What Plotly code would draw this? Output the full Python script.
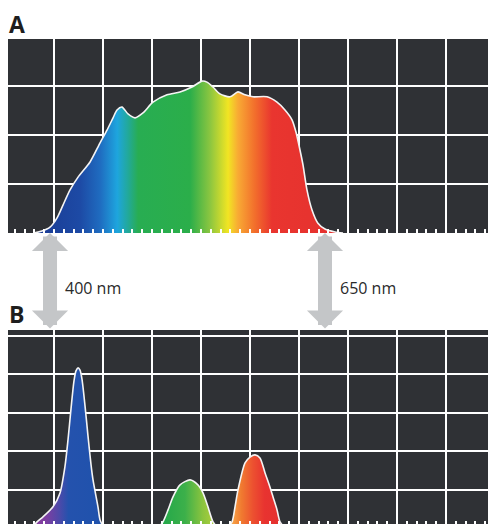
import plotly.graph_objects as go

# ---------------- data ----------------
# Panel A: broad (white-light) spectrum, wavelength in nm, relative intensity
a_wavelength = [385.5, 392.7, 400.0, 406.4, 411.8, 418.2, 425.5, 436.4, 445.5, 451.8,
                457.3, 460.9, 465.5, 470.9, 477.3, 484.5, 493.6, 506.4, 518.2, 529.1,
                538.2, 542.7, 548.2, 554.5, 563.6, 570.9, 577.3, 584.5, 597.3, 606.4,
                613.6, 620.0, 623.6, 627.3, 630.0, 633.6, 638.2, 643.6, 650.0, 659.1,
                666.4]
a_intensity = [0.00, 0.04, 0.12, 0.31, 0.57, 0.88, 1.14, 1.45, 1.84, 2.10,
               2.35, 2.51, 2.57, 2.43, 2.35, 2.45, 2.67, 2.82, 2.88, 2.98,
               3.10, 3.08, 2.98, 2.84, 2.78, 2.88, 2.82, 2.78, 2.78, 2.67,
               2.51, 2.31, 2.06, 1.69, 1.39, 0.88, 0.47, 0.20, 0.08, 0.02,
               0.00]

# Panel B: three narrow emission peaks (blue, green, red)
b_blue_wavelength = [384.5, 388.2, 393.6, 402.7, 409.1, 413.6, 416.4, 419.1, 421.8, 423.6,
                     425.5, 427.3, 429.1, 431.8, 434.5, 437.3, 439.1, 443.6, 445.5, 449.1]
b_blue_intensity = [0.03, 0.16, 0.29, 0.55, 0.91, 1.60, 2.30, 3.10, 3.82, 4.08,
                    4.16, 4.10, 3.86, 3.18, 2.40, 1.64, 1.25, 0.55, 0.21, 0.00]
b_green_wavelength = [498.2, 502.7, 507.3, 511.8, 518.2, 527.3, 534.5, 539.1, 543.6, 548.2, 552.7]
b_green_intensity = [0.00, 0.16, 0.47, 0.81, 1.12, 1.25, 1.12, 0.91, 0.55, 0.16, 0.00]
b_red_wavelength = [560.9, 565.5, 568.2, 570.9, 577.3, 581.8, 586.4, 590.9, 595.5, 600.0,
                    602.7, 606.4, 609.1, 613.6]
b_red_intensity = [0.00, 0.16, 0.55, 0.99, 1.69, 1.84, 1.90, 1.82, 1.43, 1.06,
                   0.81, 0.47, 0.16, 0.00]

marker_wavelengths = [400, 650]
marker_labels = ["400 nm", "650 nm"]
panel_labels = ["A", "B"]

# ---------------- styling ----------------
BG = "#2f3135"
GRID = "#ffffff"
W, H = 488, 524
X_RANGE = [361.8, 798.2]
CELL = 49 / 1.1          # nm per grid cell
TICK0 = 403.64

spectrum_scale = [
    [0.000, "#1a3a92"], [0.149, "#1d4aa5"], [0.214, "#1f6cc0"], [0.269, "#1ea5de"],
    [0.304, "#22a99a"], [0.337, "#28ad52"], [0.505, "#2bae4a"], [0.570, "#8cc640"],
    [0.628, "#f1e523"], [0.660, "#f8aa34"], [0.715, "#f26e2c"], [0.770, "#e9352f"],
    [1.000, "#e5312f"],
]
blue_scale = [[0.0, "#8a3c9c"], [0.2, "#7a3fa2"], [0.38, "#4a4aaa"], [0.5, "#2452ad"], [1.0, "#1f52ac"]]
green_scale = [[0.0, "#1fa64a"], [0.45, "#3cb04a"], [0.75, "#8cc43e"], [1.0, "#b8d23a"]]
red_scale = [[0.0, "#f8c070"], [0.08, "#f7a64a"], [0.25, "#f07a30"], [0.45, "#ec5030"],
             [0.65, "#e83330"], [1.0, "#e3302f"]]

fig = go.Figure()


def add_peak(x, y, scale, xa, ya):
    fig.add_trace(go.Scatter(
        x=x, y=y, mode="lines", line=dict(color="#f4f4f4", width=1.6, shape="spline", smoothing=0.7),
        fill="tozeroy",
        fillgradient=dict(type="horizontal", colorscale=scale, start=min(x), stop=max(x)),
        xaxis=xa, yaxis=ya, hoverinfo="skip", showlegend=False,
    ))


add_peak(a_wavelength, a_intensity, spectrum_scale, "x", "y")
add_peak(b_blue_wavelength, b_blue_intensity, blue_scale, "x2", "y2")
add_peak(b_green_wavelength, b_green_intensity, green_scale, "x2", "y2")
add_peak(b_red_wavelength, b_red_intensity, red_scale, "x2", "y2")

xaxis_common = dict(
    range=X_RANGE, tick0=TICK0, dtick=CELL, showgrid=True, gridcolor=GRID, gridwidth=2,
    ticks="inside", ticklen=4, tickwidth=1.5, tickcolor="#ffffff", showticklabels=False,
    zeroline=False, showline=False, fixedrange=True,
    minor=dict(dtick=CELL / 5, tick0=TICK0, ticks="inside", ticklen=4, tickwidth=1.5,
               tickcolor="#ffffff", showgrid=False),
)
yaxis_common = dict(
    dtick=1, tick0=0, showgrid=True, gridcolor=GRID, gridwidth=2,
    showticklabels=False, ticks="", zeroline=False, showline=False, fixedrange=True,
)

pa_top, pa_bot = 39, 233
pb_top, pb_bot = 330, 524

fig.update_layout(
    width=W, height=H,
    margin=dict(l=0, r=0, t=0, b=0),
    paper_bgcolor="#ffffff",
    plot_bgcolor=BG,
    xaxis=dict(domain=[8 / W, 1], anchor="y", **xaxis_common),
    yaxis=dict(domain=[1 - pa_bot / H, 1 - pa_top / H], anchor="x", range=[0, 3.96], **yaxis_common),
    xaxis2=dict(domain=[8 / W, 1], anchor="y2", **{**xaxis_common, "ticklen": 3,
                "minor": {**xaxis_common["minor"], "ticklen": 3}}),
    yaxis2=dict(domain=[0, 1 - pb_top / H], anchor="x2", range=[0.104, 5.143], **yaxis_common),
    showlegend=False,
)

# panel letters
for lab, ypx in zip(panel_labels, [23.5, 313.5]):
    fig.add_annotation(text=f"<b>{lab}</b>", xref="paper", yref="paper", x=7 / W, y=1 - ypx / H,
                       xanchor="left", yanchor="middle", showarrow=False,
                       font=dict(family="Open Sans", size=23, color="#1e1e1e"))

# double-headed arrows and wavelength labels
for wl, lab in zip(marker_wavelengths, marker_labels):
    fig.add_annotation(x=wl, y=1 - pa_bot / H, xref="x", yref="paper",
                       ax=0, ay=pb_top - pa_bot, axref="pixel", ayref="pixel",
                       text="", showarrow=True, arrowside="end+start",
                       arrowhead=1, startarrowhead=1, arrowsize=0.43, startarrowsize=0.43,
                       arrowwidth=14, arrowcolor="#c4c6c8", standoff=0, startstandoff=0)
    fig.add_annotation(x=wl, y=1 - 288 / H, xref="x", yref="paper", xshift=13,
                       text=lab, showarrow=False, xanchor="left", yanchor="middle",
                       font=dict(family="Open Sans", size=16, color="#2a2a2a"))

fig.write_html("out.html", config={"displayModeBar": False},
               post_script="document.body.style.margin='0';document.body.style.overflow='hidden';")
